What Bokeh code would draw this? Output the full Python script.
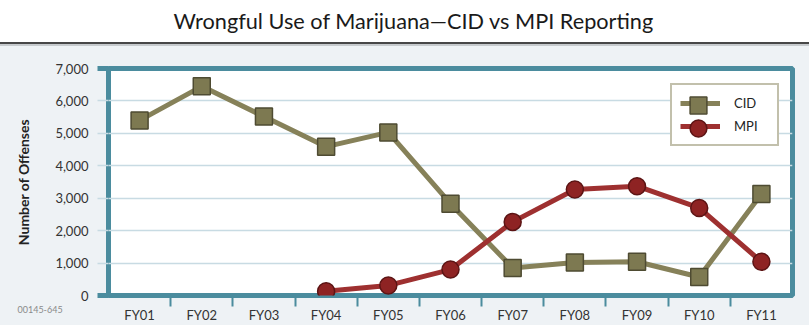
from bokeh.plotting import figure
from bokeh.models import (Range1d, FixedTicker, NumeralTickFormatter, CustomJSTickFormatter,
                          Legend, LegendItem, Title, ColumnDataSource, LinearAxis)
from bokeh.embed import file_html
from bokeh.resources import INLINE

# ---------------- data ----------------
categories = ["FY01", "FY02", "FY03", "FY04", "FY05", "FY06", "FY07", "FY08", "FY09", "FY10", "FY11"]
cid_values = [5400, 6450, 5520, 4590, 5030, 2830, 850, 1020, 1040, 570, 3130]
mpi_years = ["FY04", "FY05", "FY06", "FY07", "FY08", "FY09", "FY10", "FY11"]
mpi_values = [130, 310, 800, 2270, 3270, 3370, 2700, 1040]
y_ticks = [0, 1000, 2000, 3000, 4000, 5000, 6000, 7000]

title_text = "Wrongful Use of Marijuana\u2014CID vs MPI Reporting"
y_label = "Number of Offenses"
code_text = "00145-645"

FONT = "Lato"
TEAL = "#4b8c9e"
GRID = "#c8dbe3"
PANEL = "#eef2f5"
CID_LINE = "#868159"
CID_FILL = "#7d7951"
CID_EDGE = "#4e4b32"
MPI_LINE = "#9e3030"
MPI_FILL = "#8e2323"
MPI_EDGE = "#5c1414"

W, H = 809, 325
B_LEFT, B_RIGHT, B_TOP, B_BOTTOM = 108, 17, 68, 30
FW = W - B_LEFT - B_RIGHT
FH = H - B_TOP - B_BOTTOM

# category centres on a linear scale
pos = {c: i + 0.5 for i, c in enumerate(categories)}
cid_src = ColumnDataSource(dict(x=[pos[c] for c in categories], y=cid_values))
mpi_src = ColumnDataSource(dict(x=[pos[c] for c in mpi_years], y=mpi_values))

page_bg = ("linear-gradient(to bottom, #ffffff 0px, #ffffff 42px, #474747 42px, #474747 44px, "
           "#c6cacd 44px, #c6cacd 46px, %s 46px, %s 100%%)" % (PANEL, PANEL))

p = figure(width=W, height=H, toolbar_location=None, output_backend="svg",
           x_range=Range1d(0, len(categories)), y_range=Range1d(0, 7000),
           min_border_left=B_LEFT, min_border_right=B_RIGHT,
           min_border_top=B_TOP, min_border_bottom=B_BOTTOM,
           background_fill_color="white", border_fill_color=PANEL, border_fill_alpha=0,
           outline_line_color=TEAL, outline_line_width=5,
           styles={"background": page_bg})

# spacer panel between frame and title, then the title itself
p.add_layout(Title(text=" ", text_font_size="1px", standoff=30), "above")
p.add_layout(Title(text=title_text, align="left", offset=65, text_font=FONT,
                   text_font_size="21.7px", text_font_style="normal", text_color="#1a1a1a",
                   vertical_align="top", standoff=0), "above")

# small reference code at the lower left
p.add_layout(Title(text=code_text, align="left", offset=17 - B_LEFT, text_font=FONT,
                   text_font_size="9px", text_font_style="normal", text_color="#8a8a8a",
                   vertical_align="top", standoff=-40), "below")

p.xgrid.visible = False
p.ygrid.grid_line_color = GRID
p.ygrid.grid_line_width = 1.5
p.ygrid.ticker = FixedTicker(ticks=y_ticks)

# inner y axis: only tick marks (thick teal at the ends, light between)
yt = p.yaxis[0]
yt.ticker = FixedTicker(ticks=[y_ticks[0], y_ticks[-1]], minor_ticks=y_ticks[1:-1])
yt.formatter = CustomJSTickFormatter(code="return ''")
yt.axis_line_color = None
yt.major_tick_line_color = TEAL
yt.major_tick_line_width = 5
yt.major_tick_out = 11
yt.major_tick_in = 0
yt.minor_tick_line_color = GRID
yt.minor_tick_line_width = 1.5
yt.minor_tick_out = 11
yt.minor_tick_in = 0
yt.major_label_standoff = 0
yt.major_label_text_font_size = "1px"

# outer y axis: labels
ya = LinearAxis(ticker=FixedTicker(ticks=y_ticks), formatter=NumeralTickFormatter(format="0,0"))
ya.axis_line_color = None
ya.major_tick_line_color = None
ya.major_tick_out = 0
ya.major_tick_in = 0
ya.minor_tick_line_color = None
ya.major_label_text_font = FONT
ya.major_label_text_font_size = "13px"
ya.major_label_text_color = "#333333"
ya.major_label_standoff = 9
ya.axis_label = y_label
ya.axis_label_text_font = FONT
ya.axis_label_text_font_size = "14px"
ya.axis_label_text_font_style = "bold"
ya.axis_label_text_color = "#222222"
ya.axis_label_standoff = 20
p.add_layout(ya, "left")

# x axis: labels at category centres, tick marks between categories
xa = p.xaxis[0]
xa.ticker = FixedTicker(ticks=[pos[c] for c in categories],
                        minor_ticks=list(range(1, len(categories))))
xa.formatter = CustomJSTickFormatter(args=dict(cats=categories),
                                     code="return cats[Math.floor(tick)]")
xa.axis_line_color = None
xa.major_tick_line_color = None
xa.major_tick_out = 4
xa.major_tick_in = 0
xa.minor_tick_line_color = TEAL
xa.minor_tick_line_width = 2
xa.minor_tick_out = 11
xa.minor_tick_in = 0
xa.major_label_text_font = FONT
xa.major_label_text_font_size = "13px"
xa.major_label_text_color = "#333333"
xa.major_label_standoff = 0

# series
cid_l = p.line("x", "y", source=cid_src, line_color=CID_LINE, line_width=5)
cid_m = p.scatter("x", "y", source=cid_src, marker="square", size=17,
                  fill_color=CID_FILL, line_color=CID_EDGE, line_width=1.5)
mpi_l = p.line("x", "y", source=mpi_src, line_color=MPI_LINE, line_width=5)
mpi_m = p.scatter("x", "y", source=mpi_src, marker="circle", size=17,
                  fill_color=MPI_FILL, line_color=MPI_EDGE, line_width=1.5)

# legend box (ref: x 670..777, y 87..145)
LX = 670 - B_LEFT
LPAD = 8
LGH = 20
LSP = 3
LBOX_H = 2 * LPAD + 2 * LGH + LSP
LTOP = 87 - B_TOP                       # distance of box top below frame top
LY = FH - LTOP - LBOX_H
legend = Legend(items=[LegendItem(label="CID", renderers=[cid_l, cid_m]),
                       LegendItem(label="MPI", renderers=[mpi_l, mpi_m])],
                location=(LX, LY), orientation="vertical",
                glyph_width=40, glyph_height=LGH, spacing=LSP, padding=LPAD,
                label_standoff=14, label_width=35, label_height=LGH,
                label_text_font=FONT, label_text_font_size="13px", label_text_color="#222222",
                border_line_color=CID_LINE, border_line_width=2,
                background_fill_color="white", background_fill_alpha=1)
p.add_layout(legend, "center")

# larger legend markers drawn on top of the small ones
BIG = 42
for k, rend in enumerate([cid_m, mpi_m]):
    centre_from_top = LTOP + LPAD + LGH / 2 + k * (LGH + LSP)
    top = centre_from_top - BIG / 2
    p.add_layout(Legend(items=[LegendItem(label=" ", renderers=[rend])],
                        location=(LX + LPAD + 20 - BIG / 2, FH - top - BIG),
                        glyph_width=BIG, glyph_height=BIG, padding=0, spacing=0, margin=0,
                        label_standoff=0, label_width=0, label_height=BIG,
                        label_text_font_size="1px",
                        border_line_color=None, background_fill_alpha=0), "center")

open("out.html", "w").write(file_html(p, INLINE))
